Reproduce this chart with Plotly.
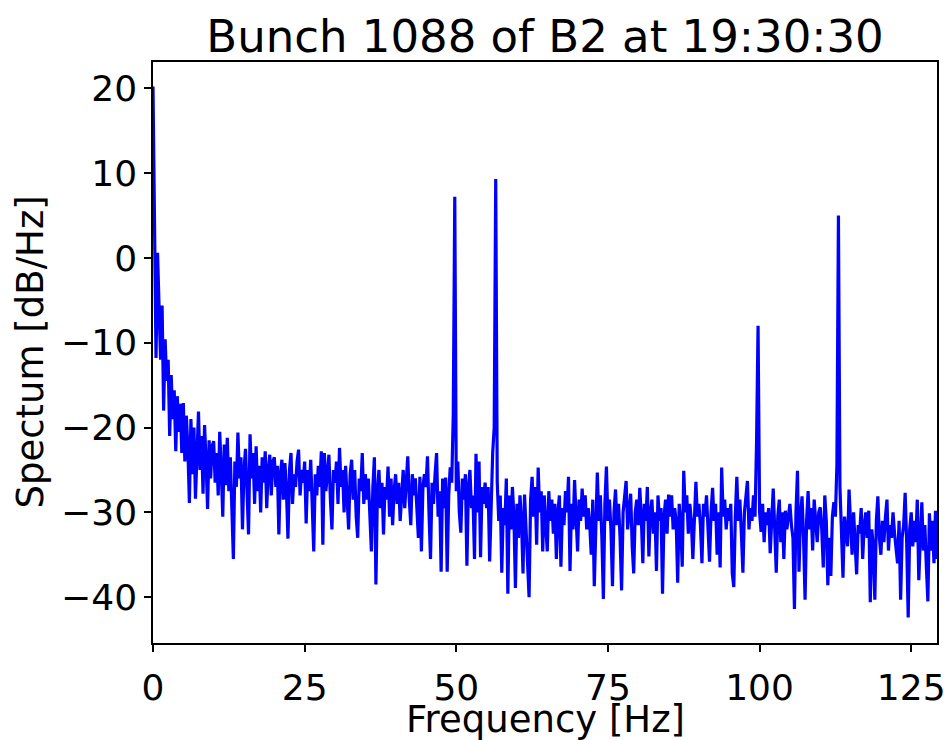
import plotly.graph_objects as go

# Frequency resolution of the spectrum (Hz per bin)
freq_step_hz = 0.25

# Spectrum values [dB/Hz], in 25 Hz segments
spec_0_25 = [
    20.2, 1.0, -11.8, 0.6, -4.7, -12.0, -5.6, -18.0, -9.6, -14.5, -12.0, -21.0, -13.8, -19.0, -15.6, -22.8, -16.3, -20.5, -17.2, -23.0,
    -17.1, -24.0, -18.6, -22.5, -28.9, -19.0, -25.5, -20.0, -28.4, -22.0, -18.1, -25.0, -21.0, -27.8, -19.7, -24.0, -29.6, -21.5, -26.0, -22.2,
    -21.6, -26.5, -23.0, -28.0, -20.5, -25.0, -30.5, -22.0, -26.8, -21.2, -27.5, -23.5, -29.0, -35.5, -24.0, -27.0, -20.6, -26.0, -23.5, -32.0,
    -25.0, -22.5, -27.5, -32.6, -20.8, -26.0, -23.0, -29.0, -22.2, -27.5, -24.5, -30.0, -23.5, -26.5, -22.8, -29.5, -25.0, -23.2, -28.0, -24.0,
    -23.5, -27.0, -24.5, -32.6, -25.5, -23.8, -28.5, -24.2, -27.5, -33.1, -25.0, -23.0, -29.0, -25.5, -27.0, -24.0, -22.6, -28.0, -25.0, -26.5,
]
spec_25_50 = [
    -24.0, -31.3, -25.0, -27.5, -23.8, -29.0, -34.6, -25.5, -28.0, -24.5, -27.0, -22.8, -33.8, -23.0, -27.5, -25.5, -23.2, -28.5, -32.0, -25.0,
    -26.5, -24.0, -29.0, -22.4, -27.0, -25.0, -30.0, -24.5, -28.0, -32.0, -25.5, -23.8, -28.5, -25.0, -30.5, -33.0, -26.0, -27.5, -23.0, -29.0,
    -25.5, -28.5, -26.0, -30.0, -34.6, -27.0, -23.5, -38.5, -27.5, -25.0, -29.5, -26.5, -32.6, -27.0, -28.5, -24.6, -30.5, -26.0, -31.5, -27.5,
    -25.5, -29.0, -26.5, -31.0, -27.0, -25.0, -29.5, -27.0, -23.4, -28.5, -31.5, -25.5, -28.0, -26.0, -30.0, -33.0, -25.8, -34.6, -27.0, -25.5,
    -27.0, -23.4, -30.0, -35.5, -26.5, -29.0, -25.5, -23.0, -30.5, -27.5, -37.0, -26.0, -29.5, -25.9, -37.0, -28.0, -24.7, -26.5, -18.5, 7.2,
]
spec_50_75 = [
    -27.5, -24.0, -30.0, -32.4, -26.0, -28.5, -25.5, -36.3, -27.0, -25.0, -29.5, -28.0, -35.5, -23.1, -30.0, -24.0, -35.3, -27.0, -29.0, -26.5,
    -29.5, -27.0, -35.8, -28.0, -23.0, -20.0, 9.3, -26.4, -31.0, -28.0, -37.1, -29.5, -31.5, -26.0, -39.6, -28.0, -32.0, -27.0, -30.5, -38.9,
    -29.0, -33.0, -28.0, -31.0, -37.2, -27.9, -32.5, -35.5, -40.0, -28.5, -25.8, -30.5, -27.0, -33.8, -24.7, -30.0, -27.5, -34.6, -28.0, -31.5,
    -34.6, -27.5, -31.0, -28.5, -32.5, -29.0, -35.5, -30.0, -28.0, -36.4, -29.5, -31.5, -27.5, -30.0, -25.8, -36.9, -29.0, -32.0, -26.2, -30.5,
    -34.6, -28.5, -31.0, -27.2, -30.5, -28.0, -32.0, -29.5, -31.5, -35.0, -28.5, -38.7, -30.0, -25.3, -31.0, -28.0, -33.0, -40.2, -29.0, -24.6,
]
spec_75_100 = [
    -31.0, -28.5, -32.0, -38.7, -30.0, -27.3, -31.5, -29.0, -33.0, -39.2, -30.0, -28.5, -26.3, -32.0, -29.5, -27.8, -34.0, -37.2, -30.0, -28.5,
    -31.5, -27.1, -30.5, -36.0, -29.0, -31.0, -27.0, -35.2, -30.0, -28.5, -32.5, -30.0, -36.9, -28.0, -31.0, -29.5, -39.6, -30.5, -28.5, -32.5,
    -27.9, -30.5, -28.0, -32.0, -29.5, -31.0, -38.3, -29.0, -31.5, -36.4, -25.1, -30.0, -28.0, -32.5, -29.0, -31.0, -35.5, -29.5, -26.4, -30.5,
    -29.0, -31.5, -36.0, -29.0, -30.5, -28.0, -32.0, -35.8, -30.0, -27.1, -31.0, -29.0, -35.0, -30.0, -36.5, -24.7, -30.5, -28.5, -32.0, -29.5,
    -31.0, -29.0, -37.2, -38.8, -30.5, -25.8, -31.0, -28.5, -32.5, -37.1, -30.0, -27.5, -26.3, -32.0, -29.5, -31.0, -28.0, -30.5, -21.9, -8.0,
]
spec_100_130 = [
    -30.0, -32.3, -29.0, -33.5, -30.0, -31.5, -29.5, -34.8, -30.0, -27.2, -32.0, -37.1, -30.5, -28.5, -33.5, -30.0, -35.5, -29.8, -32.0, -30.5,
    -29.0, -31.5, -33.0, -41.4, -30.0, -25.1, -37.0, -30.5, -28.1, -33.0, -40.3, -31.0, -27.5, -32.0, -29.5, -34.5, -28.5, -31.0, -33.5, -30.0,
    -29.4, -32.0, -36.5, -28.0, -31.0, -38.6, -33.0, -37.5, -30.5, -28.8, -30.5, -24.4, 5.0, -27.0, -31.5, -37.7, -30.5, -32.5, -34.0, -27.3,
    -31.0, -35.0, -30.0, -33.5, -37.3, -31.5, -32.5, -29.5, -35.5, -31.5, -30.0, -33.0, -29.8, -40.6, -32.0, -34.0, -40.3, -31.0, -28.1, -33.0,
    -35.0, -31.0, -33.5, -30.5, -28.5, -34.5, -31.5, -33.0, -30.0, -32.5, -34.5, -36.0, -31.0, -40.3, -33.0, -31.5, -27.7, -33.5, -42.4, -32.0,
    -30.0, -34.0, -31.0, -33.5, -28.5, -38.0, -33.0, -28.8, -34.5, -31.5, -36.5, -40.5, -30.1, -34.5, -31.0, -36.0, -29.8, -35.5,
]

x_ticks = [0, 25, 50, 75, 100, 125]
y_ticks = [20, 10, 0, -10, -20, -30, -40]

spectrum = spec_0_25 + spec_25_50 + spec_50_75 + spec_75_100 + spec_100_130
freq = [i * freq_step_hz for i in range(len(spectrum))]

FONT = "DejaVu Sans"
W, H = 944, 740
ML, MR, MT, MB = 153, 7, 62, 97
plot_w = W - ML - MR
plot_h = H - MT - MB

fig = go.Figure()
fig.add_trace(go.Scatter(
    x=freq, y=spectrum, mode="lines",
    line=dict(color="#0000ff", width=3.2),
    showlegend=False, hoverinfo="skip",
))

fig.update_layout(
    width=W, height=H,
    margin=dict(l=ML, r=MR, t=MT, b=MB, autoexpand=False),
    paper_bgcolor="white", plot_bgcolor="white",
    font=dict(family=FONT, size=36, color="black"),
    title=dict(text="Bunch 1088 of B2 at 19:30:30",
               font=dict(family=FONT, size=45, color="black"),
               x=545 / W, xanchor="center", y=1 - 36 / H, yanchor="middle"),
    annotations=[
        dict(text="Frequency [Hz]", xref="paper", yref="paper",
             x=0.5, y=-(MB + 3) / plot_h, xanchor="center", yanchor="bottom",
             showarrow=False, font=dict(family=FONT, size=37, color="black")),
        dict(text="Spectum [dB/Hz]", xref="paper", yref="paper",
             x=-(ML - 30) / plot_w, y=0.5, xanchor="center", yanchor="middle",
             textangle=-90, showarrow=False,
             font=dict(family=FONT, size=37, color="black")),
    ],
)
fig.update_xaxes(
    range=[0, freq[-1]], tickmode="array", tickvals=x_ticks,
    showline=True, linecolor="black", linewidth=1.5, mirror=True,
    ticks="outside", ticklen=7, tickwidth=1.5, tickcolor="black",
    showgrid=False, zeroline=False, ticklabelstandoff=5,
    ticklabeloverflow="allow", automargin=False,
)
fig.update_yaxes(
    range=[-45.4, 23.1], tickmode="array", tickvals=y_ticks,
    showline=True, linecolor="black", linewidth=1.5, mirror=True,
    ticks="outside", ticklen=7, tickwidth=1.5, tickcolor="black",
    showgrid=False, zeroline=False, ticklabelstandoff=0,
    ticklabeloverflow="allow", automargin=False,
)

fig.write_html("out.html")
